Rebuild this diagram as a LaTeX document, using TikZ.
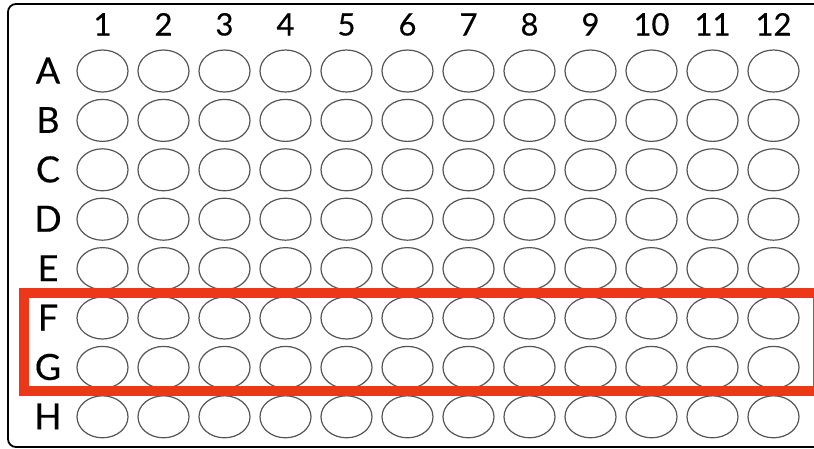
\documentclass[tikz,border=0pt]{standalone}
\usepackage{fontspec}
\newfontfamily\lblfont[FakeBold=0.3]{Lato}
\usetikzlibrary{shapes.geometric}
\definecolor{platered}{RGB}{236,56,24}
\definecolor{wellgray}{RGB}{85,85,85}
\tikzset{
  well/.style={draw=wellgray, line width=1.2pt, ellipse, minimum width=51pt, minimum height=42pt, inner sep=0pt},
  collabel/.style={font=\lblfont\fontsize{31}{31}\selectfont, text=black, inner sep=0pt, anchor=base},
  rowlabel/.style={font=\lblfont\fontsize{36}{36}\selectfont, text=black, inner sep=0pt, anchor=base},
  plate/.style={draw=black, line width=1.8pt, rounded corners=8pt},
  highlight/.style={draw=platered, line width=10pt}
}
\begin{document}
\begin{tikzpicture}[x=1pt,y=-1pt]
\useasboundingbox (0,0) rectangle (814,448);
\clip (0,0) rectangle (814,448);
\fill[white] (0,0) rectangle (814,448);
\draw[plate] (8,4) rectangle (840,447);
% column labels
\foreach \c in {1,...,12} {
  \node[collabel] (col\c) at ({102.5+61*(\c-1)},35.5) {\c};
}
% rows
\foreach \r [count=\i] in {A,B,C,D,E,F,G,H} {
  \node[rowlabel] (row\r) at (48,{83.5+49.4*(\i-1)}) {\r};
  \foreach \c in {1,...,12} {
    \node[well] (w\r\c) at ({102.5+61*(\c-1)},{71+49.4*(\i-1)}) {};
  }
}
% highlight box
\draw[highlight] (24,292.5) rectangle (830,390.5);
\draw[platered, line width=0.8pt] (813,296) -- (813,386);
\end{tikzpicture}
\end{document}
